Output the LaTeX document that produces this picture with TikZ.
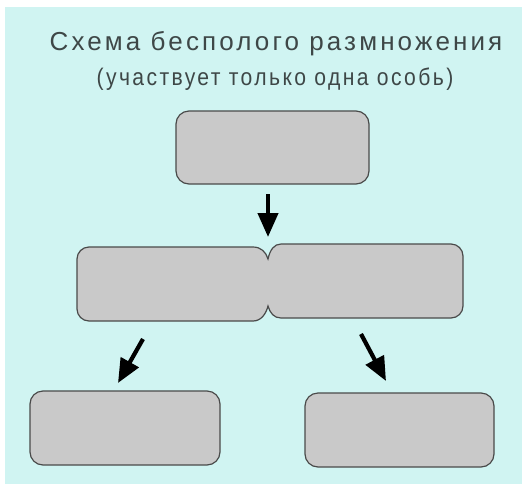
\documentclass[tikz,border=0pt]{standalone}
\usepackage{fontspec}
\setmainfont{Liberation Sans}
\newfontfamily\titlefont[LetterSpace=12]{Liberation Sans}
\newfontfamily\subfont[LetterSpace=10,FakeStretch=0.88]{Liberation Sans}
\usetikzlibrary{arrows.meta}
\definecolor{panel}{HTML}{D0F4F2}
\definecolor{boxfill}{HTML}{C9C9C9}
\definecolor{boxline}{HTML}{4A4A4A}
\definecolor{txt}{HTML}{3E4747}
\tikzset{
  boxstyle/.style={draw=boxline, fill=boxfill, line width=1.2pt},
  cardbox/.style={boxstyle, rounded corners=13pt, inner sep=0pt, minimum width=#1, minimum height=74pt},
  bigarrow/.style={line width=4.2pt, -{Triangle[length=24pt,width=20pt]}},
  titletext/.style={text=txt, inner sep=0pt, font=\titlefont\fontsize{26}{30}\selectfont},
  subtext/.style={text=txt, inner sep=0pt, font=\subfont\fontsize{24}{28}\selectfont}
}
\begin{document}
\begin{tikzpicture}[x=1pt,y=-1pt]
\useasboundingbox (0,0) rectangle (530,496);
\fill[white] (0,0) rectangle (530,496);
\fill[panel] (5,7) rectangle (522,484);
\node[titletext] (title) at (276,44) {Схема бесполого размножения};
\node[subtext] (sub) at (275,79) {(участвует только одна особь)};
\node[cardbox=193pt, minimum height=73pt] (top) at (272.5,147.5) {};
% merged middle shape
\draw[boxstyle] (89,247) -- (253,247) .. controls (261,247) and (266,252) .. (268,259)
  .. controls (270,250) and (274,244) .. (281,244) -- (451,244)
  .. controls (457.6,244) and (463,249.4) .. (463,256) -- (463,306)
  .. controls (463,312.6) and (457.6,318) .. (451,318) -- (281,318)
  .. controls (274,318) and (270,313) .. (268,306)
  .. controls (266,314) and (261,321) .. (253,321) -- (89,321)
  .. controls (82.4,321) and (77,315.6) .. (77,309) -- (77,259)
  .. controls (77,252.4) and (82.4,247) .. (89,247) -- cycle;
\node[inner sep=0pt, minimum width=386pt, minimum height=77pt] (mid) at (270,282.5) {};
\node[cardbox=190pt] (bl) at (125,428) {};
\node[cardbox=189pt] (br) at (399.5,430) {};
\coordinate (a1s) at (268,194);
\coordinate (a1e) at (268,237);
\coordinate (a2s) at (143,339);
\coordinate (a2e) at (118,383);
\coordinate (a3s) at (361,334);
\coordinate (a3e) at (386,381);
\draw[bigarrow] (a1s) -- (a1e);
\draw[bigarrow] (a2s) -- (a2e);
\draw[bigarrow] (a3s) -- (a3e);
\end{tikzpicture}
\end{document}
